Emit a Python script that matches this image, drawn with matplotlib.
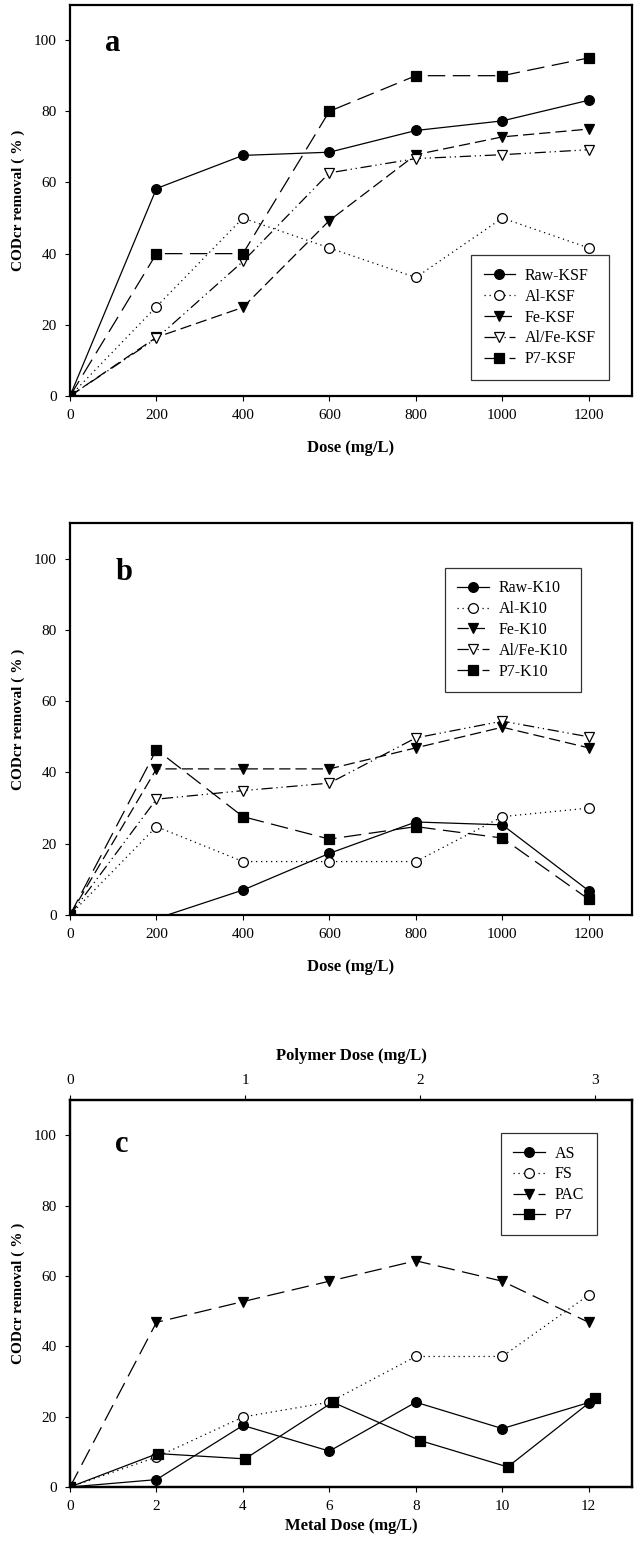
#!/usr/bin/env python3
"""CODcr removal vs dose for three coagulant sets (panels a, b, c)."""

import matplotlib
matplotlib.use('Agg')
import matplotlib.pyplot as plt

# --- data ---
dose = [0, 200, 400, 600, 800, 1000, 1200]

ksf_labels = ['Raw-KSF', 'Al-KSF', 'Fe-KSF', 'Al/Fe-KSF', 'P7-KSF']
raw_ksf = [0, 58.3, 67.6, 68.5, 74.6, 77.3, 83.1]
al_ksf = [0, 25.1, 50.0, 41.6, 33.3, 50.0, 41.6]
fe_ksf = [0, 16.5, 24.9, 49.3, 67.8, 72.8, 75.0]
alfe_ksf = [0, 16.2, 37.8, 62.7, 66.7, 67.8, 69.2]
p7_ksf = [0, 40.0, 40.0, 80.0, 90.0, 90.0, 95.0]

k10_labels = ['Raw-K10', 'Al-K10', 'Fe-K10', 'Al/Fe-K10', 'P7-K10']
raw_k10 = [0, -1.0, 7.0, 17.3, 26.1, 25.3, 6.8]
al_k10 = [0, 24.8, 15.0, 15.0, 15.0, 27.6, 30.0]
fe_k10 = [0, 41.0, 41.0, 41.0, 46.9, 52.7, 46.9]
alfe_k10 = [0, 32.5, 34.9, 37.0, 49.7, 54.4, 50.0]
p7_k10 = [0, 46.4, 27.6, 21.3, 24.8, 21.6, 4.4]

metal_dose = [0, 2, 4, 6, 8, 10, 12]
polymer_dose = [0, 0.5, 1.0, 1.5, 2.0, 2.5, 3.0]
c_labels = ['AS', 'FS', 'PAC', 'P7']
as_c = [0, 2.1, 17.5, 10.2, 24.1, 16.6, 24.0]
fs_c = [0, 8.5, 19.9, 24.1, 37.1, 37.1, 54.6]
pac_c = [0, 46.8, 52.7, 58.5, 64.3, 58.5, 46.8]
p7_c = [0, 9.5, 8.0, 24.1, 13.2, 5.7, 25.3]

plt.rcParams['font.family'] = ['Liberation Serif', 'DejaVu Serif']

W, H = 634, 1553
fig = plt.figure(figsize=(W / 100, H / 100), dpi=100)

# series styles: (linestyle, marker, facecolor)
SOLID = '-'
DOT = (0, (1, 3))
DASH = (0, (9, 4))
DASHDOTDOT = (0, (9, 3, 1, 3, 1, 3))
LONGDASH = (0, (14, 6))
styles = [
    (SOLID, 'o', 'black'),
    (DOT, 'o', 'white'),
    (DASH, 'v', 'black'),
    (DASHDOTDOT, 'v', 'white'),
    (LONGDASH, 's', 'black'),
]
TICKS = dict(direction='out', length=3.6, width=0.8, labelsize=11, pad=6)
LEG = dict(fontsize=11.5, frameon=True, fancybox=False, edgecolor='black',
           handlelength=2.0, handletextpad=0.6, labelspacing=0.3, borderpad=0.8,
           borderaxespad=0)


def make_axes(top_px, bottom_px):
    left, right = 70, 632
    return fig.add_axes([left / W, 1 - bottom_px / H, (right - left) / W,
                         (bottom_px - top_px) / H])


def style_axes(ax, xlim, xticks):
    ax.set_xlim(*xlim)
    ax.set_ylim(0, 110)
    ax.set_xticks(xticks)
    ax.set_yticks([0, 20, 40, 60, 80, 100])
    for s in ax.spines.values():
        s.set_linewidth(1.6)
    ax.tick_params(**TICKS)
    ax.set_ylabel('CODcr removal ( % )', fontsize=11, fontweight='bold', labelpad=6)


def add_legend(ax, handles, labels, loc, anchor, sans_last=False):
    leg = ax.legend(handles, labels, loc=loc, bbox_to_anchor=anchor, **LEG)
    leg.get_frame().set_linewidth(0.9)
    if sans_last:
        leg.get_texts()[-1].set_family('Liberation Sans')
        leg.get_texts()[-1].set_fontsize(10.5)
    return leg


def line(ax, x, y, style, label):
    ls, mk, fc = style
    ax.plot(x, y, linestyle=ls, color='black', lw=0.9, marker=mk, markersize=7,
            markerfacecolor=fc, markeredgecolor='black', markeredgewidth=0.9,
            label=label, clip_on=True)


# --- panel a ---
ax = make_axes(4.5, 396)
for series, st, lab in zip([raw_ksf, al_ksf, fe_ksf, alfe_ksf, p7_ksf], styles, ksf_labels):
    line(ax, dose, series, st, lab)
style_axes(ax, (0, 1300), dose)
ax.set_xlabel('Dose (mg/L)', fontsize=12, fontweight='bold', labelpad=13)
ax.text(98, 99, 'a', fontsize=22, fontweight='bold', ha='center', va='center')
add_legend(ax, *ax.get_legend_handles_labels(), 'lower right', (0.959, 0.041))

# --- panel b ---
ax = make_axes(523, 915)
for series, st, lab in zip([raw_k10, al_k10, fe_k10, alfe_k10, p7_k10], styles, k10_labels):
    line(ax, dose, series, st, lab)
style_axes(ax, (0, 1300), dose)
ax.set_xlabel('Dose (mg/L)', fontsize=12, fontweight='bold', labelpad=13)
ax.text(125, 96, 'b', fontsize=22, fontweight='bold', ha='center', va='center')
add_legend(ax, *ax.get_legend_handles_labels(), 'upper right', (0.909, 0.886))

# --- panel c ---
ax = make_axes(1100, 1487)
line(ax, metal_dose, as_c, styles[0], c_labels[0])
line(ax, metal_dose, fs_c, styles[1], c_labels[1])
line(ax, metal_dose, pac_c, (LONGDASH, 'v', 'black'), c_labels[2])
style_axes(ax, (0, 13), metal_dose)
ax.set_xlabel('Metal Dose (mg/L)', fontsize=12, fontweight='bold', labelpad=3)
ax.text(1.2, 97.4, 'c', fontsize=22, fontweight='bold', ha='center', va='center')

top = ax.twiny()
top.set_xlim(0, 13 / 4.05)
top.set_ylim(0, 110)
line(top, polymer_dose, p7_c, (SOLID, 's', 'black'), c_labels[3])
top.set_xticks([0, 1, 2, 3])
top.tick_params(**TICKS)
top.set_xlabel('Polymer Dose (mg/L)', fontsize=12, fontweight='bold', labelpad=10)
for s in top.spines.values():
    s.set_linewidth(1.6)

h1, l1 = ax.get_legend_handles_labels()
h2, l2 = top.get_legend_handles_labels()
add_legend(top, h1 + h2, l1 + l2, 'upper right', (0.938, 0.915), sans_last=True)

fig.savefig('out.png', dpi=100)
